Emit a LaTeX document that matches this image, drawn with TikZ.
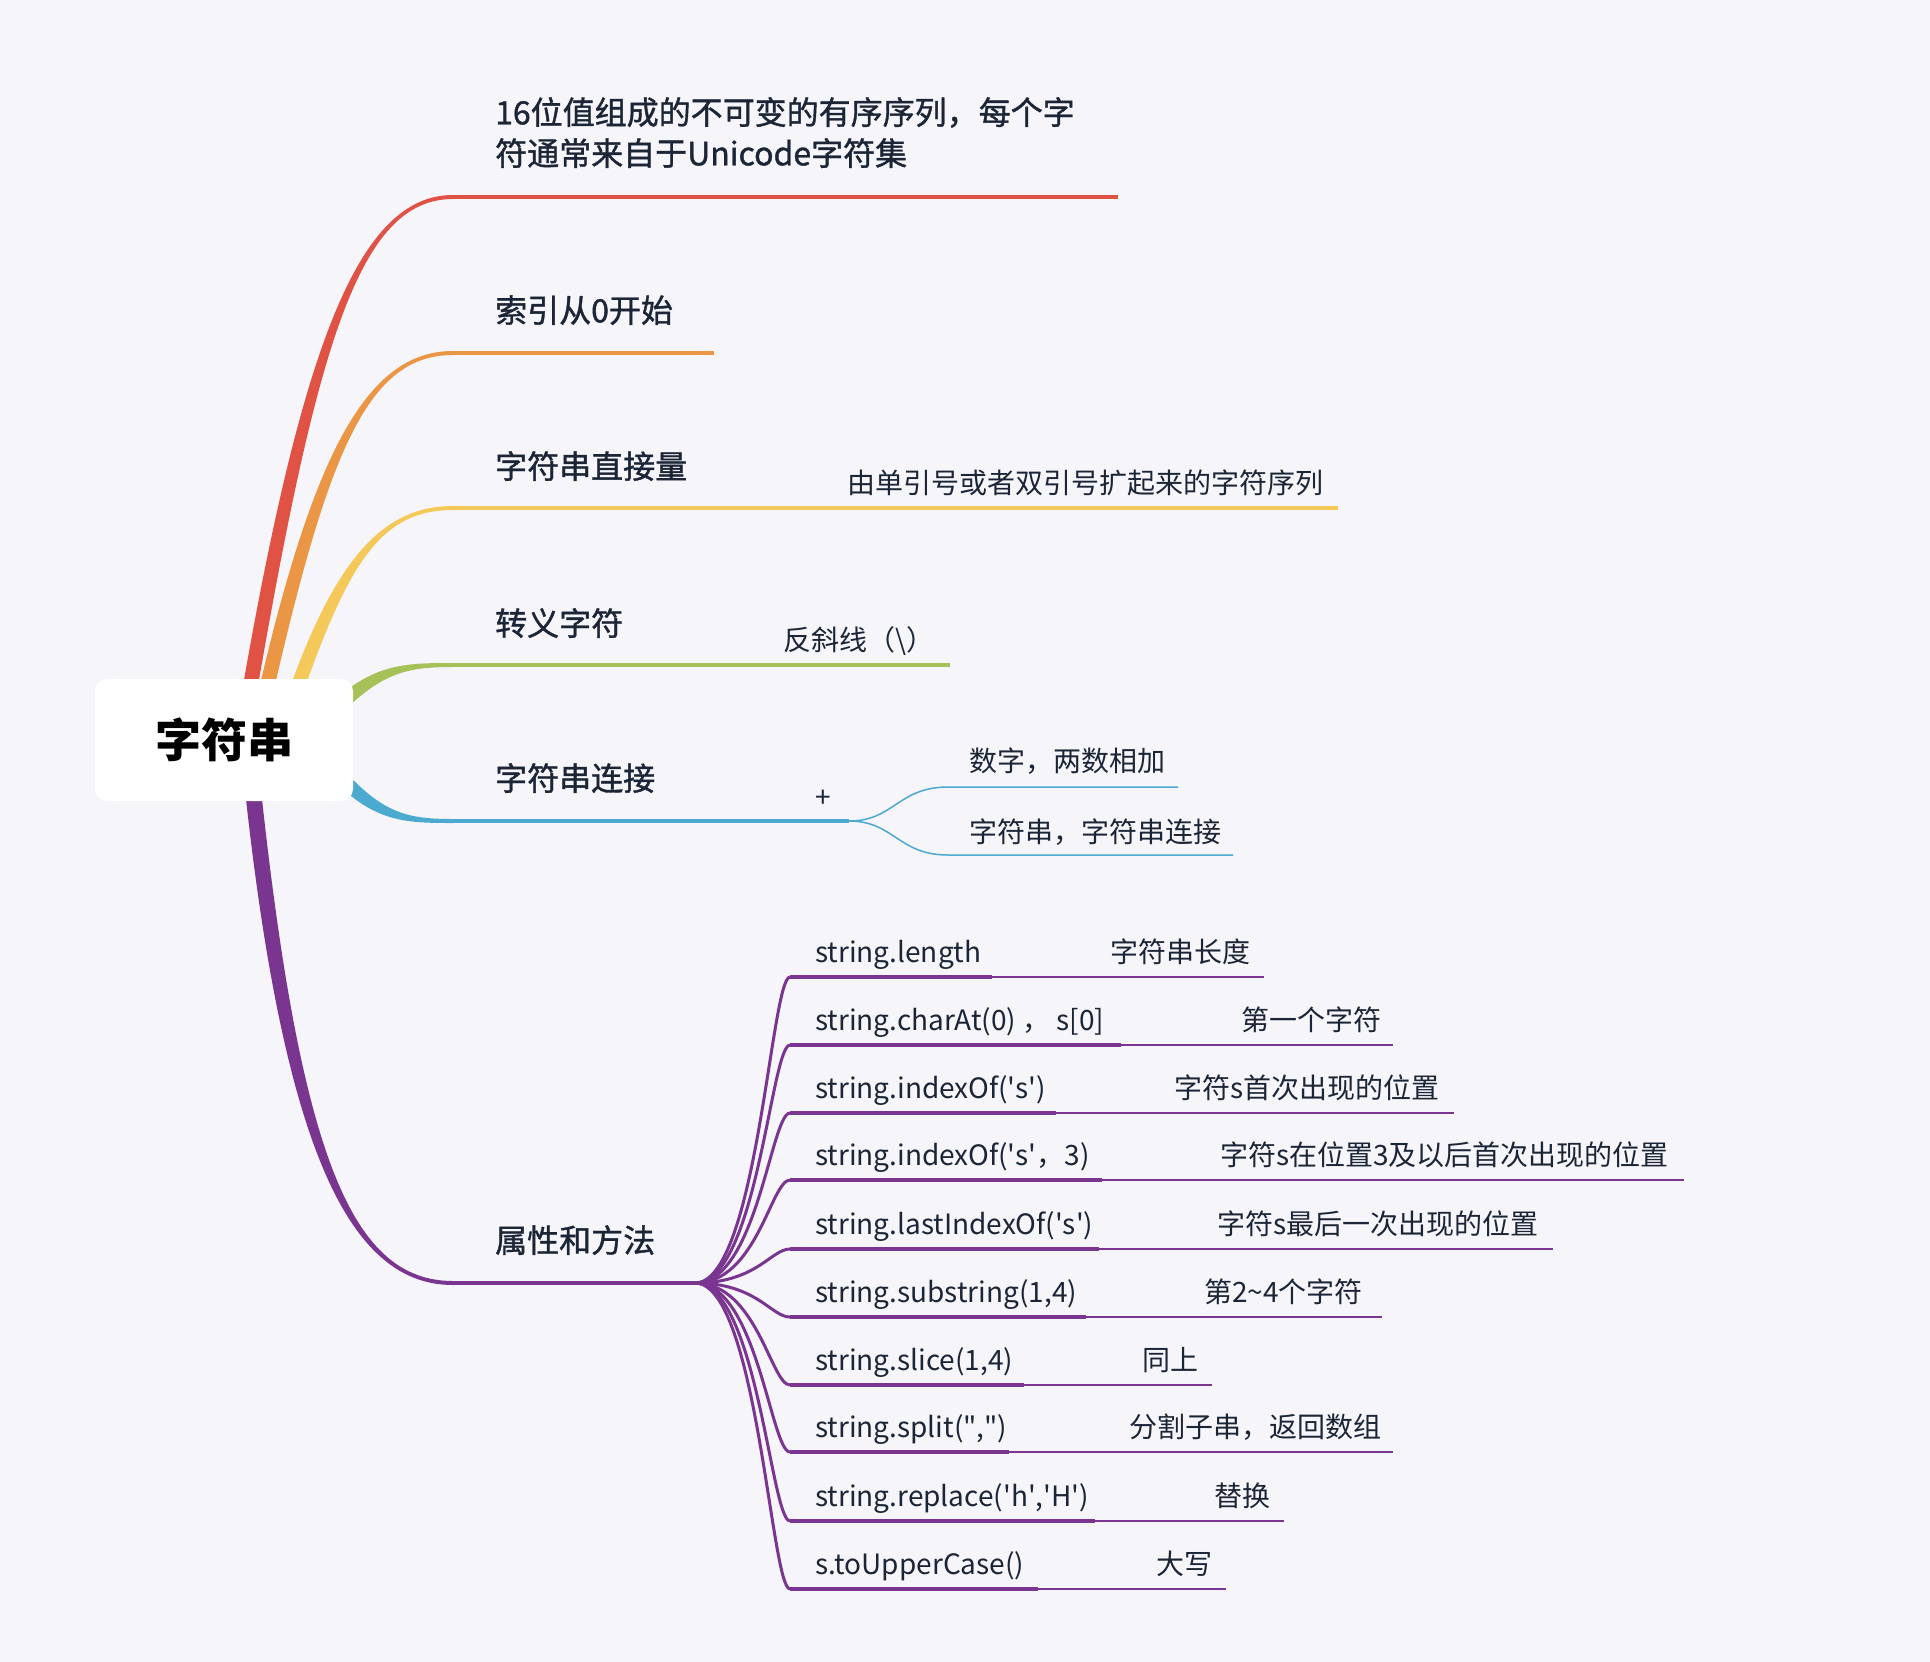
\documentclass[tikz,border=0pt]{standalone}
\usepackage{fontspec}
\setmainfont{Noto Sans CJK SC}
\newfontfamily\ttlfont{Noto Sans CJK SC}[FakeBold=1.2]
\usetikzlibrary{calc}
\definecolor{bg}{RGB}{245,245,250}
\definecolor{ink}{RGB}{27,37,54}
\definecolor{cred}{RGB}{224,82,68}
\definecolor{corange}{RGB}{235,150,68}
\definecolor{cyellow}{RGB}{245,200,90}
\definecolor{cgreen}{RGB}{166,193,88}
\definecolor{cblue}{RGB}{76,169,208}
\definecolor{cpurple}{RGB}{122,53,145}
\newcommand\sqt{\textquotesingle}
\newcommand\dqt{\textquotedbl}
% tapered branch: color, P0, P1, P2, P3, start half-offset, end half-offset
\newcommand\mmtaper[7]{%
  \fill[#1] ($(#2)-(#6)$) .. controls ($(#3)-(#6)$) and ($(#4)-(#7)$) .. ($(#5)-(#7)$)
    -- ($(#5)+(#7)$) .. controls ($(#4)+(#7)$) and ($(#3)+(#6)$) .. ($(#2)+(#6)$) -- cycle;}
\begin{document}
\begin{tikzpicture}[x=1pt,y=-1pt,
  txt/.style={anchor=west, inner sep=0pt, text=ink, text height=0.88em, text depth=0.12em, yshift=-8.5pt},
  mtitle/.style={txt, font=\ttlfont\fontsize{32}{41}\selectfont},
  msub/.style={txt, font=\fontsize{28}{34}\selectfont},
  mainline/.style={line width=4pt},
  kidcurve/.style={cpurple, line width=3pt},
  kidline/.style={cpurple, line width=3.5pt},
  grandline/.style={cpurple, line width=2pt},
]
\fill[bg] (0,0) rectangle (1930,1662);
\useasboundingbox (0,0) rectangle (1930,1662);

% ---------- main branches ----------
% red
\coordinate (r0) at (248,700); \coordinate (r1) at (310,340); \coordinate (r2) at (360,197);
\coordinate (r3) at (453,197); \coordinate (r4) at (1118,197);
\mmtaper{cred}{r0}{r1}{r2}{r3}{7.5,0}{0,2}
\draw[cred, mainline] (r3) -- (r4);
% orange
\coordinate (o0) at (264,700); \coordinate (o1) at (321,450); \coordinate (o2) at (368,353);
\coordinate (o3) at (453,353); \coordinate (o4) at (714,353);
\mmtaper{corange}{o0}{o1}{o2}{o3}{7.5,0}{0,2}
\draw[corange, mainline] (o3) -- (o4);
% yellow
\coordinate (y0) at (293,700); \coordinate (y1) at (341,562); \coordinate (y2) at (381,508);
\coordinate (y3) at (453,508); \coordinate (y4) at (1338,508);
\mmtaper{cyellow}{y0}{y1}{y2}{y3}{7.5,0}{0,2}
\draw[cyellow, mainline] (y3) -- (y4);
% green
\coordinate (g0) at (330,715); \coordinate (g1) at (375,668); \coordinate (g2) at (405,665);
\coordinate (g3) at (453,665); \coordinate (g4) at (950,665);
\mmtaper{cgreen}{g0}{g1}{g2}{g3}{5,5}{0,2}
\draw[cgreen, mainline] (g3) -- (g4);
% blue
\coordinate (b0) at (330,765); \coordinate (b1) at (375,818); \coordinate (b2) at (405,821);
\coordinate (b3) at (453,821); \coordinate (b4) at (849,821);
\mmtaper{cblue}{b0}{b1}{b2}{b3}{5,-5}{0,-2}
\draw[cblue, mainline] (b3) -- (b4);
% purple
\coordinate (p0) at (253,790); \coordinate (p1) at (293,1160); \coordinate (p2) at (353,1283);
\coordinate (p3) at (453,1283); \coordinate (p4) at (695,1283);
\mmtaper{cpurple}{p0}{p1}{p2}{p3}{8,0}{0,-2}
\draw[cpurple, mainline] (p3) -- (p4);

% ---------- root ----------
\node[fill=white, rounded corners=12pt, minimum width=258pt, minimum height=122pt, inner sep=0pt,
      text=black, font=\bfseries\fontsize{46}{46}\selectfont] (root) at (224,740) {字符串};

% ---------- titles ----------
\node[mtitle, align=left] (t1) at (495,153) {16位值组成的不可变的有序序列，每个字\\符通常来自于Unicode字符集};
\node[mtitle] (t2) at (495,310) {索引从0开始};
\node[mtitle] (t3) at (495,466) {字符串直接量};
\node[mtitle] (t4) at (495,623) {转义字符};
\node[mtitle] (t5) at (495,778) {字符串连接};
\node[mtitle] (t6) at (495,1240) {属性和方法};

% ---------- sub topics ----------
\node[msub] (s3) at (847,481) {由单引号或者双引号扩起来的字符序列};
\node[msub] (s4) at (783,638) {反斜线（\textbackslash）};
\node[msub, anchor=center] (s5) at (823,795) {+};

\coordinate (ba) at (948,787); \coordinate (bae) at (1178,787);
\coordinate (bb) at (948,855); \coordinate (bbe) at (1233,855);
\draw[cblue, line width=1.5pt] (b4) .. controls ($(b4)+(45,0)$) and ($(ba)+(-50,0)$) .. (ba) -- (bae);
\draw[cblue, line width=1.5pt] (b4) .. controls ($(b4)+(45,0)$) and ($(bb)+(-50,0)$) .. (bb) -- (bbe);
\node[msub] (s5a) at (969,759) {数字，两数相加};
\node[msub] (s5b) at (969,830) {字符串，字符串连接};

% ---------- properties and methods ----------
\foreach \i/\y/\le/\ge/\gx/\lab/\glab in {
  1/977/992/1264/1110/{string.length}/{字符串长度},
  2/1045/1121/1393/1241/{string.charAt(0) ， s[0]}/{第一个字符},
  3/1113/1056/1454/1174/{string.indexOf(\sqt s\sqt)}/{字符s首次出现的位置},
  4/1180/1102/1684/1220/{string.indexOf(\sqt s\sqt，3)}/{字符s在位置3及以后首次出现的位置},
  5/1249/1099/1553/1217/{string.lastIndexOf(\sqt s\sqt)}/{字符s最后一次出现的位置},
  6/1317/1086/1382/1204/{string.substring(1,4)}/{第2\textasciitilde 4个字符},
  7/1385/1024/1212/1142/{string.slice(1,4)}/{同上},
  8/1452/1009/1393/1129/{string.split(\dqt,\dqt)}/{分割子串，返回数组},
  9/1521/1095/1284/1214/{string.replace(\sqt h\sqt,\sqt H\sqt)}/{替换},
  10/1589/1038/1226/1156/{s.toUpperCase()}/{大写}}{
  \coordinate (k\i) at (790,\y);
  \coordinate (kl\i) at (\le,\y);
  \coordinate (kg\i) at (\ge,\y);
  \draw[kidcurve] (p4) .. controls ($(p4)+(62,0)$) and ($(k\i)+(-19,0)$) .. (k\i);
  \draw[grandline] (kl\i) -- (kg\i);
  \draw[kidline] (k\i) -- (kl\i);
  \node[msub] (m\i) at (815,\y-27) {\lab};
  \node[msub] (n\i) at (\gx,\y-27) {\glab};
}
\end{tikzpicture}
\end{document}
